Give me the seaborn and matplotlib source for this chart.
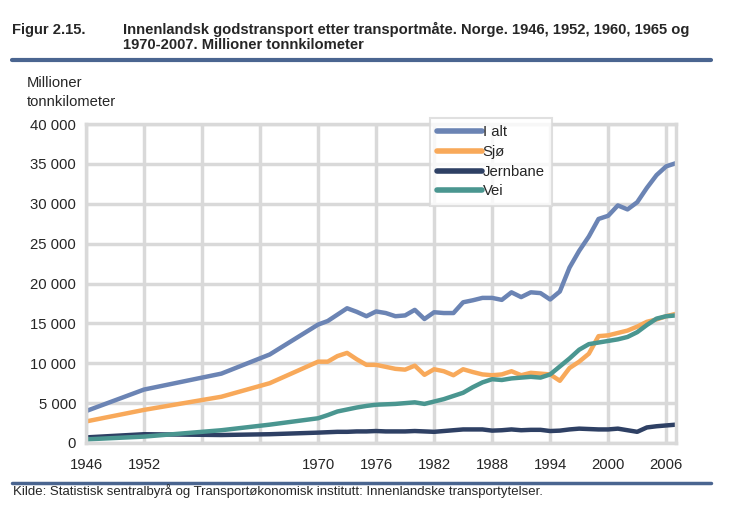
import pandas as pd
import numpy as np
import matplotlib.pyplot as plt
import seaborn as sns
from matplotlib.ticker import FuncFormatter

# years: 1946, 1952, 1960, 1965 og 1970-2007
years = [1946, 1952, 1960, 1965] + list(range(1970, 2008))

i_alt = [4000, 6700, 8700, 11100,
         14850, 15300, 16100, 16900, 16450, 15900, 16500, 16300, 15900, 16000,
         16700, 15550, 16400, 16300, 16300, 17650, 17900, 18200, 18200, 17950,
         18900, 18300, 18900, 18800, 18000, 19000, 22000, 24100, 25900, 28100,
         28500, 29800, 29300, 30200, 32000, 33600, 34700, 35100]

sjo = [2700, 4150, 5800, 7500,
       10200, 10200, 10900, 11300, 10500, 9800, 9800, 9550, 9300, 9200,
       9700, 8550, 9250, 9000, 8500, 9250, 8900, 8600, 8500, 8600,
       9000, 8500, 8800, 8700, 8600, 7800, 9400, 10200, 11200, 13400,
       13500, 13800, 14100, 14600, 15200, 15500, 15900, 16200]

jernbane = [700, 1100, 1000, 1100,
            1300, 1350, 1400, 1400, 1450, 1450, 1500, 1450, 1450, 1450,
            1500, 1450, 1400, 1500, 1600, 1700, 1700, 1700, 1550, 1600,
            1700, 1600, 1650, 1650, 1500, 1550, 1700, 1800, 1750, 1700,
            1700, 1800, 1600, 1400, 1950, 2100, 2200, 2300]

vei = [450, 800, 1600, 2300,
       3100, 3500, 3950, 4200, 4450, 4650, 4800, 4850, 4900, 5000,
       5100, 4900, 5200, 5500, 5900, 6300, 7000, 7600, 8000, 7900,
       8100, 8200, 8300, 8200, 8600, 9600, 10600, 11700, 12400, 12600,
       12800, 13000, 13300, 13900, 14800, 15600, 15900, 16000]

series_names = ['I alt', 'Sjø', 'Jernbane', 'Vei']
colors = ['#6b84b4', '#f8a95a', '#2e4064', '#4a9690']

df = pd.DataFrame({'År': years, 'I alt': i_alt, 'Sjø': sjo,
                   'Jernbane': jernbane, 'Vei': vei})
long = df.melt(id_vars='År', var_name='Transportmåte', value_name='Verdi')

sns.set_style('white')
plt.rcParams['font.family'] = ['Liberation Sans', 'DejaVu Sans']

fig = plt.figure(figsize=(7.31, 5.16), dpi=100)
ax = fig.add_axes([0.1176, 0.1415, 0.807, 0.618])

sns.lineplot(data=long, x='År', y='Verdi', hue='Transportmåte',
             hue_order=series_names, palette=colors, linewidth=3.2, ax=ax)

ax.set_xlim(1946, 2007)
ax.set_ylim(0, 40000)
xt = list(range(1946, 2007, 6))
ax.set_xticks(xt)
ax.set_xticklabels(['' if y in (1958, 1964) else str(y) for y in xt])
ax.set_yticks(range(0, 40001, 5000))
ax.yaxis.set_major_formatter(FuncFormatter(lambda v, p: f'{int(v):,}'.replace(',', ' ')))
ax.grid(True, color='#d9d9d9', linewidth=2.5)
ax.set_axisbelow(True)
for s in ax.spines.values():
    s.set_color('#d9d9d9')
    s.set_linewidth(2.5)
ax.tick_params(axis='both', length=0, labelsize=10.7)
ax.tick_params(axis='x', pad=10.5)
ax.tick_params(axis='y', pad=7)
ax.set_xlabel('')
ax.set_ylabel('')

leg = ax.legend(loc='upper left', bbox_to_anchor=(0.583, 1.019), frameon=True,
                fancybox=False, edgecolor='#d9d9d9', fontsize=10.7,
                handlelength=3.0, handletextpad=0.05, labelspacing=0.38,
                borderpad=0.5, borderaxespad=0)
leg.get_frame().set_linewidth(1.5)
for line in leg.get_lines():
    line.set_linewidth(4)

fig.text(0.016, 0.942, 'Figur 2.15.', fontsize=10.6, fontweight='bold', va='center')
fig.text(0.168, 0.942, 'Innenlandsk godstransport etter transportmåte. Norge. 1946, 1952, 1960, 1965 og',
         fontsize=10.6, fontweight='bold', va='center')
fig.text(0.168, 0.913, '1970-2007. Millioner tonnkilometer', fontsize=10.6, fontweight='bold',
         va='center')
fig.add_artist(plt.Line2D([0.016, 0.972], [0.883, 0.883], color='#4a6590', linewidth=3))
fig.text(0.037, 0.840, 'Millioner', fontsize=10.6, va='center', ha='left')
fig.text(0.037, 0.803, 'tonnkilometer', fontsize=10.6, va='center', ha='left')
fig.add_artist(plt.Line2D([0.016, 0.972], [0.064, 0.064], color='#4a6590', linewidth=2.5))
fig.text(0.018, 0.048, 'Kilde: Statistisk sentralbyrå og Transportøkonomisk institutt: Innenlandske transportytelser.',
         fontsize=9.5, va='center')

fig.savefig('out.png', dpi=100)
